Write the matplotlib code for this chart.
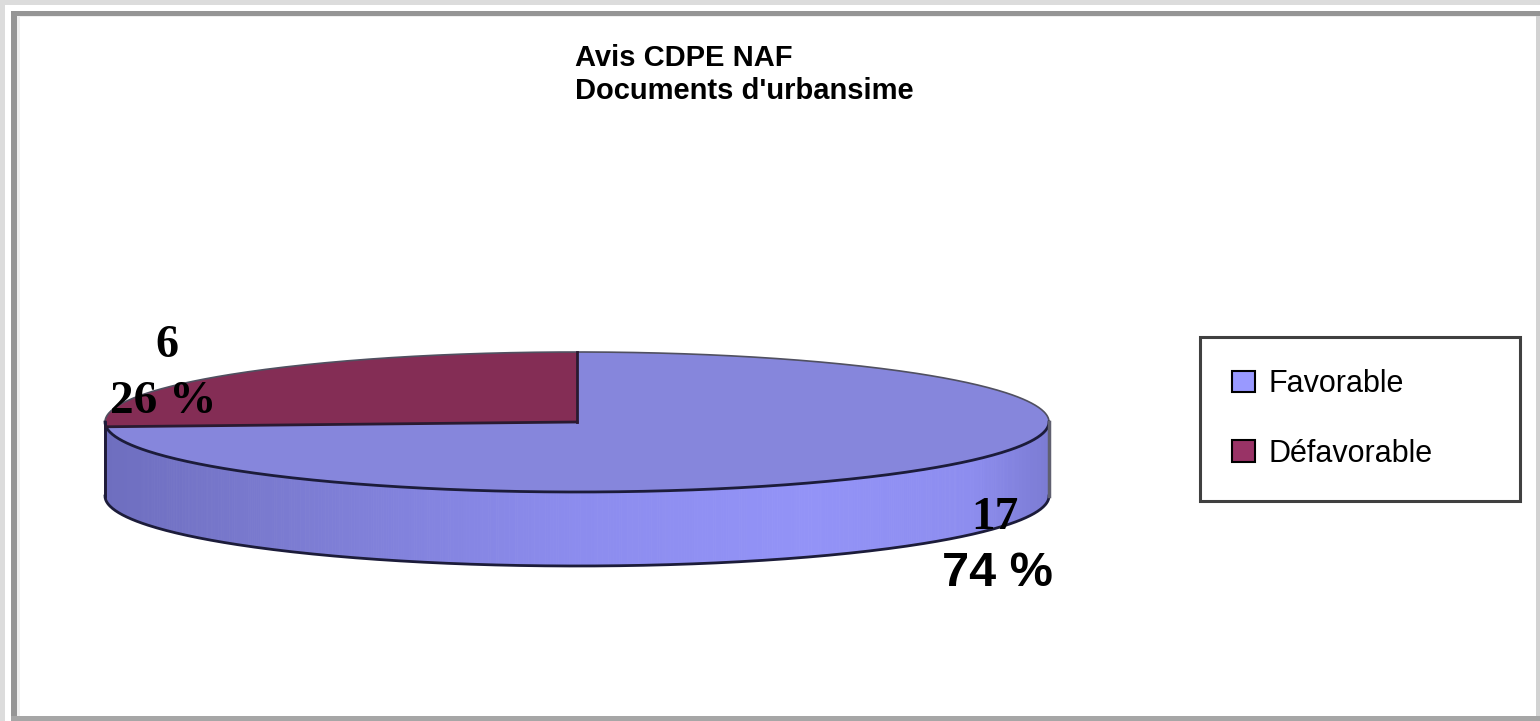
import matplotlib.pyplot as plt
import numpy as np
from matplotlib.patches import Rectangle, Polygon, Patch
from matplotlib.collections import PolyCollection
from matplotlib.colors import LinearSegmentedColormap

# data
categories = ["Favorable", "Défavorable"]
counts = [17, 6]
top_colors = ["#8686dc", "#842d55"]
legend_colors = ["#9999ff", "#993366"]
title_lines = ["Avis CDPE NAF", "Documents d'urbansime"]

# layout of the flattened 3d pie (pixel coords)
cx, cy = 577, 422
rx, ry = 472, 70
depth = 74
start = 90.0

fig = plt.figure(figsize=(15.4, 7.21), dpi=100)
ax = fig.add_axes([0, 0, 1, 1])
ax.set_xlim(0, 1540)
ax.set_ylim(721, 0)
ax.axis('off')

# ---- outer frame ----
ax.add_patch(Rectangle((0, 0), 1540, 5, color='#dcdcdc', lw=0))
ax.add_patch(Rectangle((0, 0), 5, 721, color='#dcdcdc', lw=0))
ax.add_patch(Rectangle((11, 11), 1529, 710, color='#959595', lw=0))
ax.add_patch(Rectangle((17, 16), 1519, 700, color='#efefef', lw=0))
ax.add_patch(Rectangle((20, 17), 1516, 699, color='white', lw=0))
ax.add_patch(Rectangle((1536, 16), 4, 705, color='#d2d2d2', lw=0))
ax.add_patch(Rectangle((11, 716), 1529, 5, color='#a6a6a6', lw=0))

def pt(t):
    t = np.radians(t)
    return cx + rx * np.cos(t), cy - ry * np.sin(t)

# slice angles, clockwise from the top
fracs = np.array(counts) / sum(counts)
angles = []
a = start
for f in fracs:
    angles.append((a, a - 360 * f))
    a -= 360 * f

side_cmap = LinearSegmentedColormap.from_list(
    'side', [(0.0, '#6e6ebf'), (0.2, '#7c7cd2'), (0.5, '#8c8cee'),
             (0.75, '#9393f7'), (0.92, '#8d8def'), (1.0, '#7c7cd4')])
side_cmap_red = LinearSegmentedColormap.from_list('sr', ['#5e2040', '#7a2b50'])

# ---- side walls (front half only) ----
for i, (a0, a1) in enumerate(angles):
    lo, hi = min(a0, a1), max(a0, a1)
    polys, cols = [], []
    for off in (-360, 0, 360):
        s0, s1 = max(lo + off, -180), min(hi + off, 0)
        if s1 <= s0:
            continue
        ts = np.linspace(s0, s1, int((s1 - s0) * 3) + 2)
        for t0, t1 in zip(ts[:-1], ts[1:]):
            x0, y0 = pt(t0)
            x1, y1 = pt(t1)
            polys.append([(x0, y0), (x1, y1), (x1, y1 + depth), (x0, y0 + depth)])
            u = (np.cos(np.radians((t0 + t1) / 2)) + 1) / 2
            cols.append(side_cmap(u) if i == 0 else side_cmap_red(u))
    if polys:
        ax.add_collection(PolyCollection(polys, facecolors=cols, edgecolors=cols,
                                         linewidths=0.6, zorder=2))

# ---- top faces ----
for i, (a0, a1) in enumerate(angles):
    ts = np.linspace(a0, a1, 400)
    xs, ys = pt(ts)
    verts = [(cx, cy)] + list(zip(xs, ys))
    ax.add_patch(Polygon(verts, closed=True, facecolor=top_colors[i],
                         edgecolor='none', zorder=3))

# ---- outlines ----
tt = np.linspace(0, 180, 300)
xs, ys = pt(tt)
ax.plot(xs, ys, color='#505060', lw=1.2, zorder=4)
tt = np.linspace(-180, 0, 300)
xs, ys = pt(tt)
ax.plot(xs, ys, color='#1c1c3a', lw=2, zorder=4)
ax.plot(xs, ys + depth, color='#1c1c3a', lw=2, zorder=4)
ax.plot([cx - rx, cx - rx], [cy, cy + depth], color='#1c1c3a', lw=2, zorder=4)
ax.plot([cx + rx, cx + rx], [cy, cy + depth], color='#606070', lw=2.5, zorder=4)
for a0, a1 in angles:
    x, y = pt(a0)
    ax.plot([cx, x], [cy, y], color='#2a1a30', lw=2, zorder=4)

# ---- data labels ----
pcts = [f"{round(f * 100):d} %" for f in fracs]
ax.text(167, 346, f"{counts[1]}", fontsize=33, family='Liberation Serif',
        fontweight='bold', ha='center', va='center', zorder=5)
ax.text(163, 402, pcts[1], fontsize=34, family='Liberation Serif',
        fontweight='bold', ha='center', va='center', zorder=5)
ax.text(995, 518, f"{counts[0]}", fontsize=34, family='Liberation Serif',
        fontweight='bold', ha='center', va='center', zorder=5)
ax.text(997, 573, pcts[0], fontsize=35, family='Liberation Sans',
        fontweight='bold', ha='center', va='center', zorder=5)

# ---- title ----
ax.text(575, 58, title_lines[0], fontsize=21, fontweight='bold',
        family='Liberation Sans', ha='left', va='center')
ax.text(575, 91, title_lines[1], fontsize=21, fontweight='bold',
        family='Liberation Sans', ha='left', va='center')

# ---- legend ----
handles = [Patch(facecolor=c, edgecolor='black', lw=1.5) for c in legend_colors]
top = 1 - 337 / 721
leg = ax.legend(handles, categories, loc='upper left',
                bbox_to_anchor=(1200 / 1540, top - 0.001, 320 / 1540, 0.001),
                mode='expand', fancybox=False, framealpha=1,
                prop={'family': 'Liberation Sans', 'size': 22},
                handlelength=0.75, handleheight=0.7, handletextpad=0.45,
                labelspacing=1.3, borderpad=1.05, borderaxespad=0)
leg.get_frame().set_edgecolor('#404040')
leg.get_frame().set_linewidth(2.2)

plt.savefig('out.png', dpi=100)
